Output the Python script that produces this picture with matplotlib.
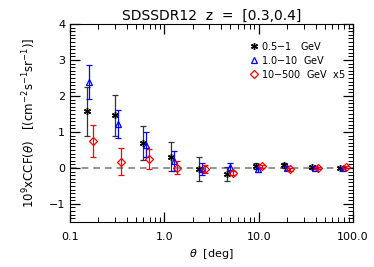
import numpy as np
import matplotlib
matplotlib.use('Agg')
import matplotlib.pyplot as plt
from matplotlib.ticker import FixedLocator, MultipleLocator, LogLocator, NullFormatter

# angular bins (deg)
theta = [0.15, 0.30, 0.60, 1.18, 2.33, 4.6, 9.3, 18.5, 37.0, 73.0]

# 0.5-1 GeV
ccf_lo = [1.58, 1.47, 0.69, 0.31, -0.03, -0.17, 0.05, 0.07, 0.02, 0.0]
err_lo = [0.68, 0.57, 0.47, 0.40, 0.33, 0.20, 0.08, 0.06, 0.04, 0.03]
# 1.0-10 GeV
ccf_mid = [2.39, 1.22, 0.64, 0.20, -0.03, 0.03, -0.04, 0.0, 0.0, -0.01]
err_mid = [0.48, 0.40, 0.35, 0.28, 0.18, 0.12, 0.06, 0.05, 0.04, 0.03]
# 10-500 GeV x5
ccf_hi = [0.75, 0.17, 0.25, 0.0, -0.03, -0.14, 0.05, -0.04, 0.0, 0.02]
err_hi = [0.45, 0.37, 0.27, 0.18, 0.10, 0.06, 0.04, 0.04, 0.03, 0.03]

plt.rcParams['font.family'] = 'DejaVu Sans'
plt.rcParams['mathtext.fontset'] = 'dejavusans'

fig = plt.figure(figsize=(3.74, 2.67), dpi=100)
ax = fig.add_axes([0.187, 0.169, 0.757, 0.741])

th = np.array(theta)
ax.axhline(0, color='gray', ls=(0, (4, 3)), lw=1.2, zorder=1)

ax.errorbar(th, ccf_lo, yerr=err_lo, fmt='none', ecolor='#333333', elinewidth=0.9, capsize=2.5, capthick=0.9)
ax.plot(th, ccf_lo, ls='none', marker=(6, 2, 0), ms=5, mew=1.0, color='black', label='0.5$-$1   GeV')

ax.errorbar(th * 1.07, ccf_mid, yerr=err_mid, fmt='none', ecolor='blue', elinewidth=0.9, capsize=2.5, capthick=0.9)
ax.plot(th * 1.07, ccf_mid, ls='none', marker='^', ms=5, mfc='none', mec='blue', mew=0.9, label='1.0$-$10  GeV')

ax.errorbar(th * 1.16, ccf_hi, yerr=err_hi, fmt='none', ecolor='red', elinewidth=0.9, capsize=2.5, capthick=0.9)
ax.plot(th * 1.16, ccf_hi, ls='none', marker='D', ms=4, mfc='none', mec='red', mew=0.9, label='10$-$500  GeV  x5')

ax.set_xscale('log')
ax.set_xlim(0.1, 100)
ax.set_ylim(-1.5, 4)
ax.xaxis.set_major_locator(FixedLocator([0.1, 1, 10, 100]))
ax.set_xticklabels(['0.1', '1.0', '10.0', '100.0'])
ax.xaxis.set_minor_locator(LogLocator(base=10, subs=np.arange(2, 10)))
ax.xaxis.set_minor_formatter(NullFormatter())
ax.yaxis.set_major_locator(MultipleLocator(1))
ax.yaxis.set_minor_locator(MultipleLocator(0.1))
ax.tick_params(which='both', direction='in', top=True, right=True, labelsize=8)
ax.tick_params(which='major', length=7, width=0.9)
ax.tick_params(which='minor', length=3.5, width=0.7)
ax.tick_params(axis='x', pad=7)

ax.set_title('SDSSDR12  z  =  [0.3,0.4]', fontsize=10, pad=3)
ax.set_xlabel(r'$\theta$  [deg]', fontsize=8)
ax.set_ylabel(r'10$^9$xCCF($\theta$)   [(cm$^{-2}$s$^{-1}$sr$^{-1}$)]', fontsize=8.5, labelpad=8)

ax.legend(loc='upper right', bbox_to_anchor=(1.0, 0.955), frameon=False, fontsize=7,
          handlelength=0.6, handletextpad=0.4, labelspacing=0.2, borderpad=0.2)

fig.savefig('out.png', dpi=100)
